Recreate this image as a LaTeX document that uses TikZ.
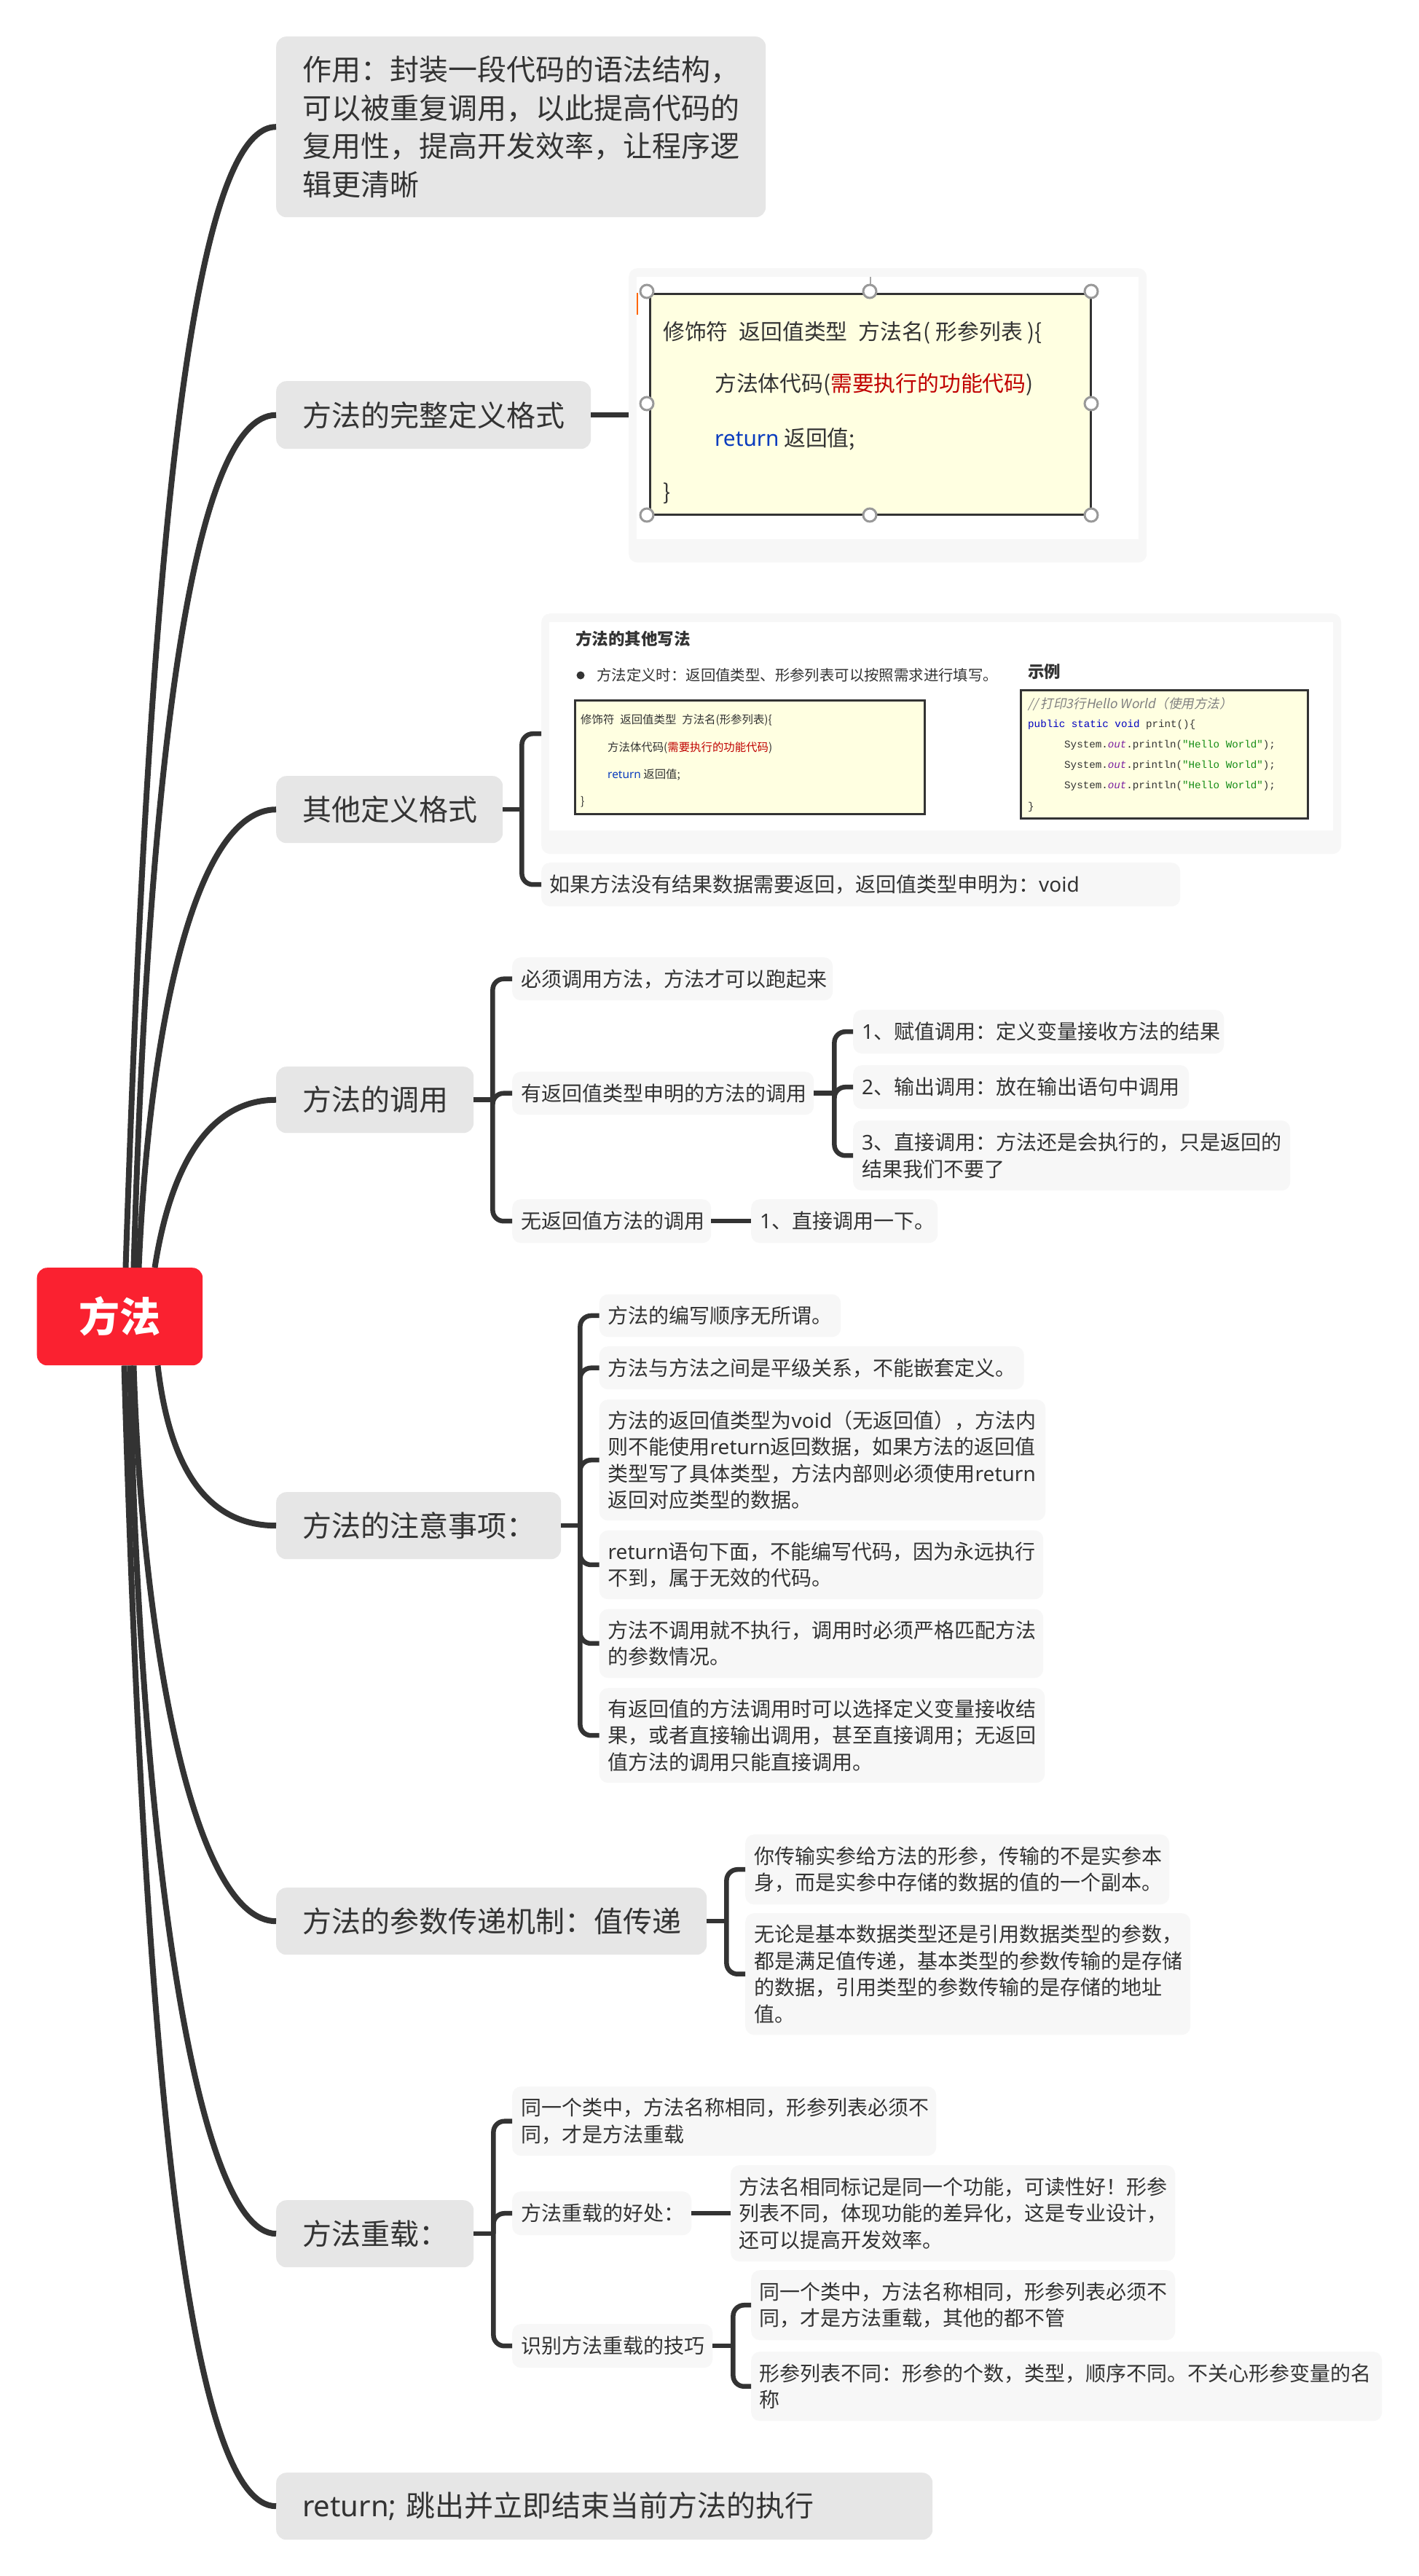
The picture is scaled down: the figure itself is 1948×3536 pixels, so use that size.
\documentclass[tikz,border=0pt]{standalone}
\usepackage{fontspec}
\setmainfont{Noto Sans CJK SC}
\newfontfamily\latf{Noto Sans}
\newfontfamily\monof{Liberation Mono}
\newfontfamily\slantf[FakeSlant=0.2]{Noto Sans CJK SC}
\newcommand{\ltn}[1]{{\latf #1}}
\definecolor{ink}{HTML}{333333}
\definecolor{rootred}{HTML}{FA2130}
\definecolor{lvtwo}{HTML}{E6E6E6}
\definecolor{lvthree}{HTML}{F7F7F7}
\definecolor{noteyellow}{HTML}{FFFFE1}
\definecolor{codeblue}{HTML}{0A3CBE}
\definecolor{codered}{HTML}{C00000}
\definecolor{kwblue}{HTML}{0000C0}
\definecolor{strgreen}{HTML}{148C14}
\definecolor{outpurple}{HTML}{7A1FA0}
\tikzset{
  rootbox/.style={fill=rootred,text=white,rounded corners=14pt,align=center,font=\fontsize{56}{62}\selectfont\bfseries},
  twobox/.style={fill=lvtwo,text=ink,rounded corners=14pt,align=left,font=\fontsize{40}{52.5}\selectfont},
  threebox/.style={fill=lvthree,text=ink,rounded corners=12pt,align=left,font=\fontsize{28}{36.4}\selectfont},
  framebox/.style={fill=lvthree,rounded corners=12pt},
  whitebox/.style={fill=white},
  notebox/.style={fill=noteyellow,draw=ink,line width=2.5pt},
  notebig/.style={text=ink,anchor=west,inner sep=0pt,font=\fontsize{29.8}{34}\selectfont},
  notesmall/.style={text=ink,anchor=west,inner sep=0pt,font=\fontsize{15.4}{19}\selectfont},
  codeline/.style={text=ink,anchor=west,inner sep=0pt,font=\fontsize{14.2}{18}\selectfont\monof},
  slidetext/.style={text=ink,anchor=west,inner sep=0pt,font=\fontsize{20.4}{24}\selectfont},
  slidehead/.style={text=ink,anchor=west,inner sep=0pt,font=\fontsize{22.5}{26}\selectfont\bfseries},
  handle/.style={circle,fill=white,draw=black!40,line width=3pt,minimum size=18pt,inner sep=0pt},
  mainline/.style={draw=ink,line width=8pt},
  stemline/.style={draw=ink,line width=6.5pt},
  branchline/.style={draw=ink,line width=6.5pt,rounded corners=15pt}
}
\newcommand{\mapnode}[8]{%
  \pgfmathsetmacro\nodew{#6-#4}%
  \pgfmathsetmacro\nodeh{#7-#5}%
  \pgfmathsetmacro\nodet{#6-#4-2*#3}%
  \node[#2,anchor=north west,inner xsep=#3pt,inner ysep=0pt,minimum width=\nodew pt,minimum height=\nodeh pt,text width=\nodet pt] (#1) at (#4,#5) {#8};
}
\newcommand{\plainbox}[6]{%
  \pgfmathsetmacro\nodew{#5-#3}%
  \pgfmathsetmacro\nodeh{#6-#4}%
  \node[#2,anchor=north west,inner sep=0pt,minimum width=\nodew pt,minimum height=\nodeh pt] (#1) at (#3,#4) {};
}
\newcommand{\stem}[2]{\draw[stemline] (#1.east) -- ++(#2,0);}
\newcommand{\brch}[3]{\draw[branchline] (#1.east) ++(#2,0) |- (#3.west);}
\begin{document}
\begin{tikzpicture}[x=1pt,y=-1pt]
\fill[white] (0,0) rectangle (1948,3536);
\useasboundingbox (0,0) rectangle (1948,3536);

% root
\plainbox{rootbg}{fill=rootred,rounded corners=14pt}{50.5}{1740}{278}{1874}
\node[rootbox,inner sep=0pt] (root) at (rootbg.center) {方法};

% level two
\mapnode{n1}{twobox}{36}{379}{50}{1051}{298}{作用：封装一段代码的语法结构，\\可以被重复调用，以此提高代码的\\复用性，提高开发效率，让程序逻\\辑更清晰}
\mapnode{n2}{twobox}{36}{379}{523}{811}{616}{方法的完整定义格式}
\mapnode{n3}{twobox}{36}{379}{1065}{690}{1157}{其他定义格式}
\mapnode{n4}{twobox}{36}{379}{1464}{650}{1555}{方法的调用}
\mapnode{n5}{twobox}{36}{379}{2048}{770}{2140}{方法的注意事项：}
\mapnode{n6}{twobox}{36}{379}{2591}{970}{2683}{方法的参数传递机制：值传递}
\mapnode{n7}{twobox}{36}{379}{3020}{650}{3112}{方法重载：}
\mapnode{n8}{twobox}{36}{379}{3394}{1280}{3486}{\ltn{return;} 跳出并立即结束当前方法的执行}

% image 1
\plainbox{imgone}{framebox}{863}{368}{1574}{772}
\plainbox{imgonew}{whitebox}{874}{380}{1563}{740}
\plainbox{noteone}{notebox}{891}{402}{1496}{705}
\draw[draw=black!35,line width=1.5pt] (noteone.north) ++(0,-22) -- ++(0,14);
\draw[draw=orange!80!red,line width=1.5pt] (noteone.north west) ++(-16,0) -- ++(0,30);
\foreach \nm/\hx/\hy in {a/888/400,b/1194/400,c/1498/400,d/888/554,e/1498/554,f/888/707,g/1194/707,h/1498/707}
  \node[handle] (hd\nm) at (\hx,\hy) {};
\node[notebig] (oa) at (910,457) {修饰符\hspace{15pt}返回值类型\hspace{15pt}方法名( 形参列表 )\{};
\node[notebig] (ob) at (981,528) {方法体代码(\textcolor{codered}{需要执行的功能代码})};
\node[notebig] (oc) at (981,603) {\textcolor{codeblue}{\ltn{return}} 返回值;};
\node[notebig] (od) at (910,677) {\}};

% image 2
\plainbox{imgtwo}{framebox}{743}{842}{1841}{1172}
\plainbox{imgtwow}{whitebox}{754}{854}{1830}{1140}
\node[slidehead] (ta) at (790,877) {方法的其他写法};
\node[circle,fill=ink,minimum size=11pt,inner sep=0pt] (tbul) at (797,927) {};
\node[slidetext] (tb) at (819,927) {方法定义时：返回值类型、形参列表可以按照需求进行填写。};
\node[slidehead] (tc) at (1411,922) {示例};
\plainbox{notetwo}{notebox}{788}{960}{1268}{1116}
\node[notesmall] (sa) at (797,988) {修饰符\hspace{8pt}返回值类型\hspace{8pt}方法名(形参列表)\{};
\node[notesmall] (sb) at (834,1026) {方法体代码(\textcolor{codered}{需要执行的功能代码})};
\node[notesmall] (sc) at (834,1063) {\textcolor{codeblue}{\ltn{return}} 返回值;};
\node[notesmall] (sd) at (797,1101) {\}};
\plainbox{notethree}{notebox}{1400}{946}{1794}{1122}
\node[anchor=west,inner sep=0pt,text=black!50,font=\fontsize{17.5}{20}\selectfont\slantf] (cca) at (1411,967) {// 打印3行Hello World（使用方法）};
\node[codeline] (cb) at (1411,995) {\textcolor{kwblue}{public static void} print()\{};
\node[codeline] (cc) at (1461,1023) {System.\textcolor{outpurple}{\itshape out}.println(\textcolor{strgreen}{"Hello World"});};
\node[codeline] (cd) at (1461,1051) {System.\textcolor{outpurple}{\itshape out}.println(\textcolor{strgreen}{"Hello World"});};
\node[codeline] (ce) at (1461,1079) {System.\textcolor{outpurple}{\itshape out}.println(\textcolor{strgreen}{"Hello World"});};
\node[codeline] (cf) at (1411,1108) {\}};

\mapnode{nt}{threebox}{11}{743}{1184}{1620}{1244}{如果方法没有结果数据需要返回，返回值类型申明为：\ltn{void}}

% n4 children
\mapnode{a}{threebox}{12}{703}{1314}{1143}{1373}{必须调用方法，方法才可以跑起来}
\mapnode{b}{threebox}{12}{703}{1471}{1117}{1530}{有返回值类型申明的方法的调用}
\mapnode{c}{threebox}{12}{703}{1646}{976}{1706}{无返回值方法的调用}
\mapnode{ba}{threebox}{12}{1171}{1386}{1680}{1446}{\ltn{1}、赋值调用：定义变量接收方法的结果}
\mapnode{bb}{threebox}{12}{1171}{1462}{1632}{1522}{\ltn{2}、输出调用：放在输出语句中调用}
\mapnode{bc}{threebox}{12}{1171}{1538}{1771}{1634}{\ltn{3}、直接调用：方法还是会执行的，只是返回的\\结果我们不要了}
\mapnode{ca}{threebox}{12}{1031}{1646}{1287}{1706}{\ltn{1}、直接调用一下。}

% n5 children
\mapnode{e1}{threebox}{12}{822.5}{1776.5}{1154}{1835}{方法的编写顺序无所谓。}
\mapnode{e2}{threebox}{12}{822.5}{1848}{1405.5}{1907}{方法与方法之间是平级关系，不能嵌套定义。}
\mapnode{e3}{threebox}{12}{822.5}{1921}{1435}{2087}{方法的返回值类型为\ltn{void}（无返回值），方法内\\则不能使用\ltn{return}返回数据，如果方法的返回值\\类型写了具体类型，方法内部则必须使用\ltn{return}\\返回对应类型的数据。}
\mapnode{e4}{threebox}{12}{822.5}{2100.5}{1432}{2195}{\ltn{return}语句下面，不能编写代码，因为永远执行\\不到，属于无效的代码。}
\mapnode{e5}{threebox}{12}{822.5}{2208.5}{1432}{2303}{方法不调用就不执行，调用时必须严格匹配方法\\的参数情况。}
\mapnode{e6}{threebox}{12}{822.5}{2317}{1434}{2447}{有返回值的方法调用时可以选择定义变量接收结\\果，或者直接输出调用，甚至直接调用；无返回\\值方法的调用只能直接调用。}

% n6 children
\mapnode{d1}{threebox}{12}{1023}{2518}{1605}{2614}{你传输实参给方法的形参，传输的不是实参本\\身，而是实参中存储的数据的值的一个副本。}
\mapnode{d2}{threebox}{12}{1023}{2626}{1634}{2793}{无论是基本数据类型还是引用数据类型的参数，\\都是满足值传递，基本类型的参数传输的是存储\\的数据，引用类型的参数传输的是存储的地址\\值。}

% n7 children
\mapnode{g1}{threebox}{12}{703}{2864}{1285}{2959}{同一个类中，方法名称相同，形参列表必须不\\同，才是方法重载}
\mapnode{g2}{threebox}{12}{703}{3008}{949}{3068}{方法重载的好处：}
\mapnode{g3}{threebox}{12}{703}{3190}{978}{3250}{识别方法重载的技巧}
\mapnode{f1}{threebox}{11}{1003}{2972}{1613}{3104}{方法名相同标记是同一个功能，可读性好！形参\\列表不同，体现功能的差异化，这是专业设计，\\还可以提高开发效率。}
\mapnode{h1}{threebox}{11}{1031}{3116}{1613}{3212}{同一个类中，方法名称相同，形参列表必须不\\同，才是方法重载，其他的都不管}
\mapnode{h2}{threebox}{11}{1031}{3228}{1897}{3323}{形参列表不同：形参的个数，类型，顺序不同。不关心形参变量的名\\称}

% main curves
\draw[mainline] (rootbg.north west) ++(122,0) .. controls (200,900) and (250,174) .. (n1.west);
\draw[mainline] (rootbg.north west) ++(133,0) .. controls (205,1000) and (270,570) .. (n2.west);
\draw[mainline] (rootbg.north west) ++(140,0) .. controls (205,1400) and (270,1111) .. (n3.west);
\draw[mainline] (rootbg.north west) ++(162,0) .. controls (225,1660) and (260,1510) .. (n4.west);
\draw[mainline] (rootbg.south west) ++(166,0) .. controls (230,1990) and (270,2094) .. (n5.west);
\draw[mainline] (rootbg.south west) ++(133,0) .. controls (195,2250) and (265,2637) .. (n6.west);
\draw[mainline] (rootbg.south west) ++(128,0) .. controls (190,2500) and (265,3065) .. (n7.west);
\draw[mainline] (rootbg.south west) ++(120,0) .. controls (200,2900) and (265,3440) .. (n8.west);

% brackets
\draw[stemline] (n2.east) -- (imgone.west |- n2.east);
\stem{n3}{26}
\brch{n3}{26}{imgtwo}
\brch{n3}{26}{nt}
\stem{n4}{26}
\brch{n4}{26}{a}
\brch{n4}{26}{b}
\brch{n4}{26}{c}
\stem{b}{28}
\brch{b}{28}{ba}
\brch{b}{28}{bb}
\brch{b}{28}{bc}
\draw[stemline] (c.east) -- (ca.west);
\stem{n5}{26}
\foreach \ch in {e1,e2,e3,e4,e5,e6} {\brch{n5}{26}{\ch}}
\stem{n6}{27}
\brch{n6}{27}{d1}
\brch{n6}{27}{d2}
\stem{n7}{27}
\brch{n7}{27}{g1}
\brch{n7}{27}{g2}
\brch{n7}{27}{g3}
\draw[stemline] (g2.east) -- (f1.west);
\stem{g3}{28}
\brch{g3}{28}{h1}
\brch{g3}{28}{h2}
\end{tikzpicture}
\end{document}
